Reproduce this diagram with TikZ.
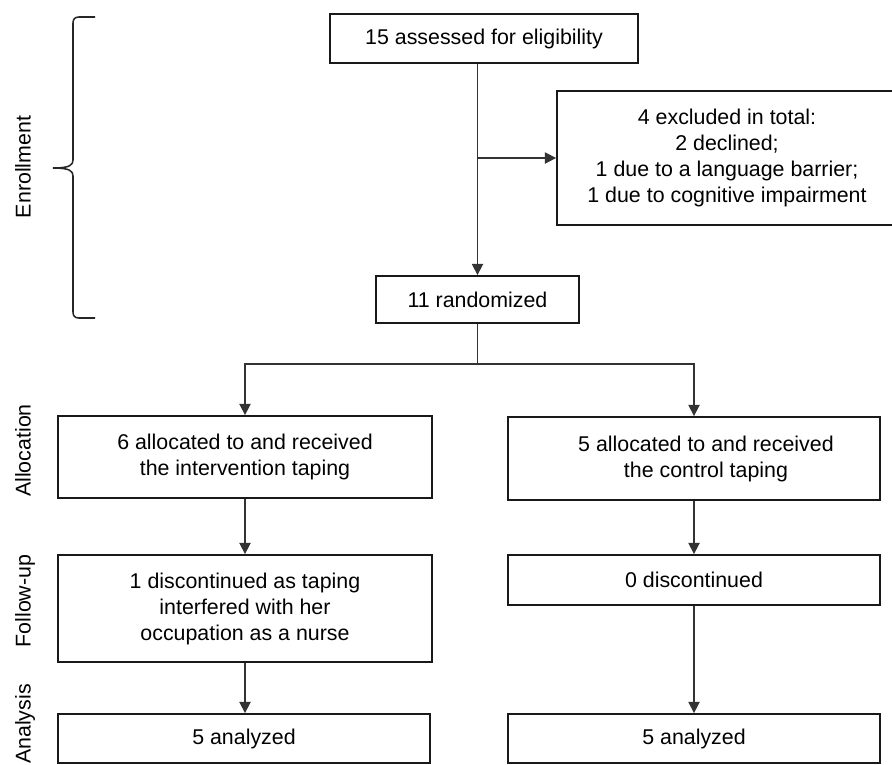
\documentclass[tikz,border=0pt]{standalone}
\usepackage{fontspec}
\setmainfont{Liberation Sans}
\usetikzlibrary{arrows.meta}

\newcommand{\pxu}{0.025cm}

\begin{document}
\begin{tikzpicture}
            [x=\pxu, y=-\pxu, font=\fontsize{15.2pt}{18.5pt}\selectfont,
            box/.style={draw, line width=1.3pt, black!90, text=black, align=center, inner sep=0pt},
            phase/.style={rotate=90, text height=0.75em, text depth=0.25em, inner sep=0pt},
            line/.style={line width=1.1pt, black!80},
            arr/.style={line, -{Triangle[length=8pt, width=8pt]}},
            brace/.style={line width=1.1pt, black!85}]

            \useasboundingbox (0,0) rectangle (892,764);

            \node[box, minimum width=308*\pxu, minimum height=49*\pxu] (assess) at (484,38.5) {15 assessed for eligibility};
            \node[box, minimum width=340*\pxu, minimum height=134*\pxu] (excl) at (727,158) {4 excluded in total:\\2 declined;\\1 due to a language barrier;\\1 due to cognitive impairment};
            \node[box, minimum width=203*\pxu, minimum height=47*\pxu] (rand) at (477.5,299.5) {11 randomized};
            \node[box, minimum width=374*\pxu, minimum height=82*\pxu] (allocL) at (245,457) {6 allocated to and received\\the intervention taping};
            \node[box, minimum width=372*\pxu, minimum height=83*\pxu] (allocR) at (694,458.5) {\hspace*{17pt}5 allocated to and received\\\hspace*{17pt}the control taping};
            \node[box, minimum width=374*\pxu, minimum height=107*\pxu] (fuL) at (245,608.5) {1 discontinued as taping\\interfered with her\\occupation as a nurse};
            \node[box, minimum width=372*\pxu, minimum height=50*\pxu] (fuR) at (694,580) {0 discontinued};
            \node[box, minimum width=372*\pxu, minimum height=49*\pxu] (anL) at (244,738.5) {5 analyzed};
            \node[box, minimum width=372*\pxu, minimum height=49*\pxu] (anR) at (694,738.5) {5 analyzed};

            % Phase labels
            \node[phase] (enrol) at (27,167) {Enrollment};
            \node[phase] (alloc) at (27,450.5) {Allocation};
            \node[phase] (follow) at (27,601) {Follow-up};
            \node[phase] (anal) at (27,724) {Analysis};

            % Brace for enrollment
            \draw[brace] (95,17) -- (79,17) .. controls (75,17) and (73,19) .. (73,23) -- (73,160)
                .. controls (73,165) and (70,168) .. (53,168)
                .. controls (70,168) and (73,171) .. (73,176) -- (73,312)
                .. controls (73,316) and (75,318) .. (79,318) -- (95,318);

            \coordinate (split) at (472,364);

            \draw[arr] (assess.south -| rand.north) -- (rand.north);
            \draw[arr] (rand.north |- excl.west) -- (excl.west);
            \draw[line] (rand.south) -- (rand.south |- split);
            \draw[arr] (rand.south |- split) -| (allocL.north);
            \draw[arr] (rand.south |- split) -| (allocR.north);

            \draw[arr] (allocL) -- (fuL);
            \draw[arr] (fuL) -- (anL.north -| fuL.south);
            \draw[arr] (allocR) -- (fuR);
            \draw[arr] (fuR) -- (anR);

        \end{tikzpicture}
\end{document}
